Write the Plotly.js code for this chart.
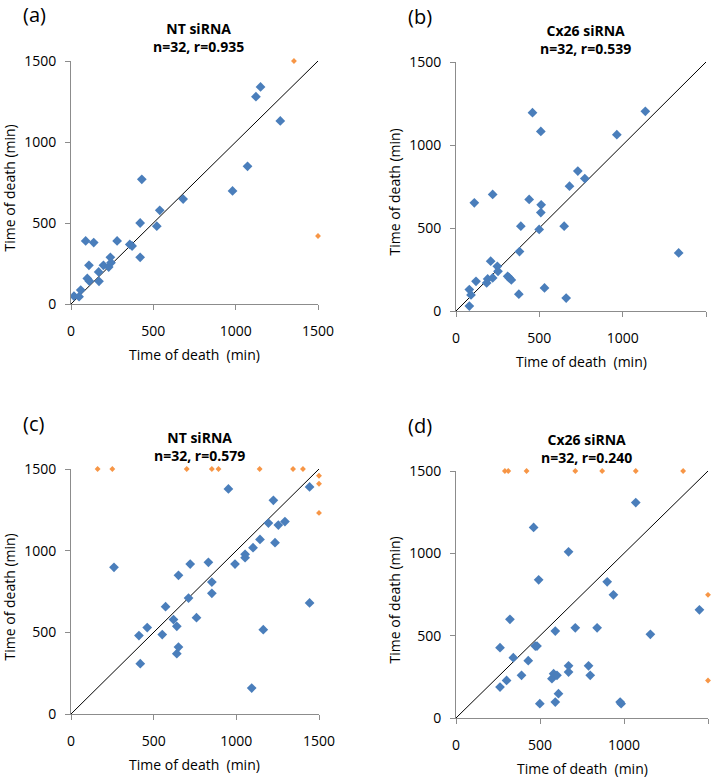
<!DOCTYPE html>
<html>
<head>
<meta charset="utf-8">
<script src="https://cdn.plot.ly/plotly-3.0.1.min.js"></script>
<style>html,body{margin:0;padding:0;background:#fff}#chart{width:719px;height:781px}</style>
</head>
<body>
<div id="chart"></div>
<script>
// ---- Data (Time of death, min) ----
// Panel (a) NT siRNA
var aBlueX = [18, 49, 59, 89, 138, 109, 99, 111, 170, 168, 197, 229, 239, 243, 280, 357, 371, 420, 420, 430, 521, 539, 681, 981, 1072, 1123, 1151, 1271];
var aBlueY = [49, 45, 86, 389, 379, 239, 158, 142, 140, 198, 239, 228, 288, 255, 389, 368, 358, 500, 288, 770, 480, 578, 648, 698, 850, 1280, 1340, 1130];
var aOrangeX = [1354, 1500];
var aOrangeY = [1500, 420];
// Panel (b) Cx26 siRNA
var bBlueX = [80, 80, 90, 110, 120, 184, 190, 208, 220, 220, 248, 252, 310, 320, 332, 377, 381, 389, 439, 459, 499, 509, 511, 509, 531, 649, 661, 681, 731, 773, 965, 1136, 1336];
var bBlueY = [30, 129, 97, 652, 179, 169, 193, 300, 702, 199, 269, 239, 209, 199, 187, 101, 358, 511, 672, 1195, 491, 593, 640, 1082, 139, 511, 78, 752, 843, 798, 1062, 1203, 350];
// Panel (c) NT siRNA
var cBlueX = [260, 411, 419, 461, 552, 572, 620, 640, 640, 650, 650, 711, 721, 759, 831, 852, 852, 952, 992, 1053, 1053, 1093, 1101, 1143, 1163, 1194, 1224, 1234, 1254, 1294, 1443, 1443];
var cBlueY = [898, 480, 308, 529, 486, 657, 578, 537, 369, 410, 849, 710, 918, 590, 929, 808, 739, 1378, 918, 978, 957, 159, 1018, 1069, 516, 1169, 1308, 1049, 1157, 1178, 680, 1390];
var cOrangeX = [161, 250, 700, 852, 892, 1141, 1343, 1403, 1500, 1500, 1500];
var cOrangeY = [1500, 1500, 1500, 1500, 1500, 1500, 1500, 1500, 1459, 1410, 1231];
// Panel (d) Cx26 siRNA
var dBlueX = [262, 262, 301, 321, 341, 390, 430, 462, 472, 482, 492, 499, 571, 581, 591, 591, 601, 610, 670, 670, 670, 710, 789, 799, 840, 900, 937, 977, 983, 1070, 1157, 1449];
var dBlueY = [188, 427, 228, 599, 366, 259, 348, 1157, 437, 437, 839, 87, 239, 269, 528, 97, 259, 148, 1009, 317, 279, 548, 317, 259, 548, 827, 748, 97, 87, 1308, 508, 657];
var dOrangeX = [291, 311, 420, 710, 870, 1070, 1352, 1500, 1500];
var dOrangeY = [1500, 1500, 1500, 1500, 1500, 1500, 1500, 748, 228];

var identityLine = [0, 1500];
var tickVals = [0, 500, 1000, 1500];
var panelLetters = ['(a)', '(b)', '(c)', '(d)'];
var panelTitles = ['NT siRNA<br>n=32, r=0.935', 'Cx26 siRNA<br>n=32, r=0.539', 'NT siRNA<br>n=32, r=0.579', 'Cx26 siRNA<br>n=32, r=0.240'];
var axisTitle = 'Time of death  (min)';
var axisTitleY = 'Time of death (min)';

// ---- Styling / geometry ----
var W = 719, H = 781;
var BLUE = '#4a7ebb', ORANGE = '#f79646';
var FONT = 'Open Sans, DejaVu Sans, sans-serif';
function px(x){ return x / W; }
function py(y){ return 1 - y / H; }
// plot boxes in pixels: [x0, x1, yTop, yBottom]
var boxes = [[71, 318, 61, 304], [456, 706, 62, 311], [71, 319, 469, 714], [456, 708, 471, 718]];

var panels = [
  {bx: aBlueX, by: aBlueY, ox: aOrangeX, oy: aOrangeY},
  {bx: bBlueX, by: bBlueY, ox: [], oy: []},
  {bx: cBlueX, by: cBlueY, ox: cOrangeX, oy: cOrangeY},
  {bx: dBlueX, by: dBlueY, ox: dOrangeX, oy: dOrangeY}
];

var traces = [];
var layout = {
  width: W, height: H,
  margin: {l: 0, r: 0, t: 0, b: 0},
  paper_bgcolor: '#fff', plot_bgcolor: '#fff',
  showlegend: false,
  font: {family: FONT, color: '#000', size: 14},
  annotations: []
};

panels.forEach(function(p, i){
  var n = i === 0 ? '' : String(i + 1);
  var xa = 'x' + n, ya = 'y' + n;
  traces.push({x: identityLine, y: identityLine, xaxis: xa, yaxis: ya, mode: 'lines',
    line: {color: '#000', width: 1}, hoverinfo: 'skip'});
  traces.push({x: p.bx, y: p.by, xaxis: xa, yaxis: ya, mode: 'markers',
    marker: {symbol: 'diamond', size: 7.5, color: BLUE}});
  if (p.ox.length) traces.push({x: p.ox, y: p.oy, xaxis: xa, yaxis: ya, mode: 'markers',
    marker: {symbol: 'diamond', size: 4.5, color: ORANGE}, cliponaxis: false});
  var b = boxes[i];
  var common = {range: [0, 1500], tickvals: tickVals, ticktext: tickVals.map(String),
    showgrid: false, zeroline: false, showline: true, linecolor: '#8c8c8c', linewidth: 1,
    ticks: 'outside', ticklen: 5, tickcolor: '#8c8c8c', tickfont: {family: FONT, size: 14, color: '#000'},
    fixedrange: true};
  layout['xaxis' + n] = Object.assign({}, common, {domain: [px(b[0]), px(b[1])], anchor: ya, ticklabelstandoff: 9});
  layout['yaxis' + n] = Object.assign({}, common, {domain: [py(b[3]), py(b[2])], anchor: xa, ticklabelstandoff: 6});
  var cx = (b[0] + b[1]) / 2 + 4;
  // panel title
  layout.annotations.push({text: '<b>' + panelTitles[i] + '</b>', xref: 'paper', yref: 'paper',
    x: px(cx), y: py(b[2] - 23), xanchor: 'center', yanchor: 'middle', showarrow: false,
    font: {family: FONT, size: 14, color: '#000'}, align: 'center'});
  // panel letter
  layout.annotations.push({text: panelLetters[i], xref: 'paper', yref: 'paper',
    x: px(b[0] - 50), y: py(b[2] - 46), xanchor: 'left', yanchor: 'middle', showarrow: false,
    font: {family: FONT, size: 20, color: '#000'}});
  // x-axis title
  layout.annotations.push({text: axisTitle, xref: 'paper', yref: 'paper',
    x: px((b[0] + b[1]) / 2), y: py(b[3] + 50), xanchor: 'center', yanchor: 'middle', showarrow: false,
    font: {family: FONT, size: 14, color: '#000'}});
  // y-axis title
  layout.annotations.push({text: axisTitleY, xref: 'paper', yref: 'paper', textangle: -90,
    x: px(b[0] - 62), y: py((b[2] + b[3]) / 2 + 6), xanchor: 'center', yanchor: 'middle', showarrow: false,
    font: {family: FONT, size: 14, color: '#000'}});
});

Plotly.newPlot('chart', traces, layout, {staticPlot: true, displayModeBar: false});
</script>
</body>
</html>
